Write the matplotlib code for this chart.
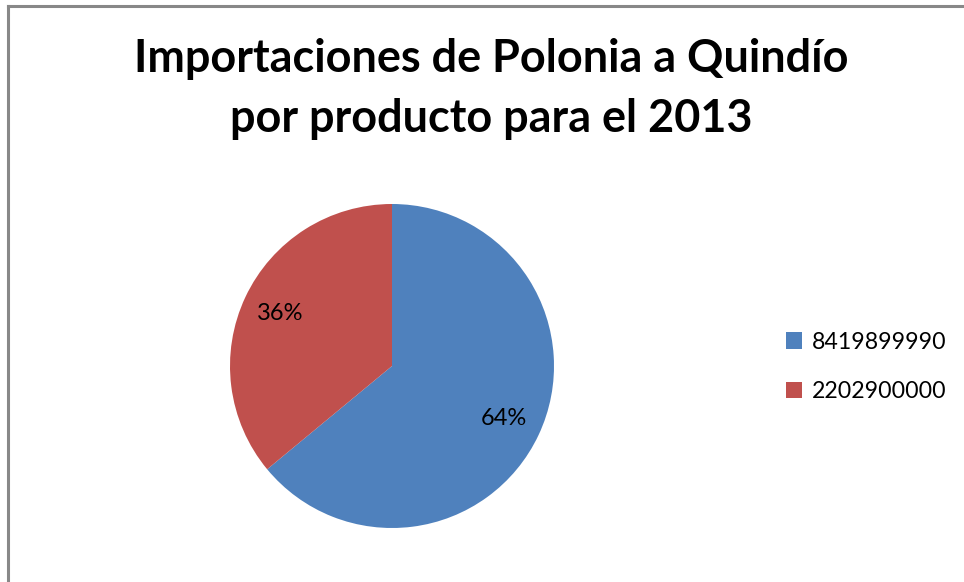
import matplotlib
matplotlib.use("Agg")
import matplotlib.pyplot as plt

categories = ["8419899990", "2202900000"]
values = [64, 36]
colors = ["#4F81BD", "#C0504D"]
title = "Importaciones de Polonia a Quindío\npor producto para el 2013"

W, H = 964, 582
fig = plt.figure(figsize=(W / 100, H / 100), dpi=100)
plt.rcParams['font.family'] = ['Lato', 'DejaVu Sans']

# border
fig.add_artist(plt.Line2D([7.5 / W, 7.5 / W], [0, 1 - 5.5 / H], color="#888888", lw=2.2, transform=fig.transFigure))
fig.add_artist(plt.Line2D([7.5 / W, 1], [1 - 5.5 / H, 1 - 5.5 / H], color="#888888", lw=2.2, transform=fig.transFigure))

cx, cy, r = 392, 366, 162
ax = fig.add_axes([(cx - r) / W, 1 - (cy + r) / H, 2 * r / W, 2 * r / H])
wedges, texts, autotexts = ax.pie(values, colors=colors, startangle=90, counterclock=False,
                                  autopct=lambda p: f"{p:.0f}%", pctdistance=0.76,
                                  wedgeprops=dict(linewidth=0),
                                  textprops=dict(fontsize=17, color="black"))
ax.set_aspect("equal")
ax.set_xlim(-1, 1)
ax.set_ylim(-1, 1)

fig.text(491 / W, 1 - 89 / H, title, ha="center", va="center", fontsize=32.4,
         fontweight="bold", linespacing=1.55)

fig.legend(wedges, categories, loc="center left", bbox_to_anchor=(765 / W, 1 - 367 / H),
           frameon=False, fontsize=16.7, handlelength=0.7, handleheight=0.7,
           handletextpad=0.4, labelspacing=1.25)

fig.savefig("out.png", dpi=100)
